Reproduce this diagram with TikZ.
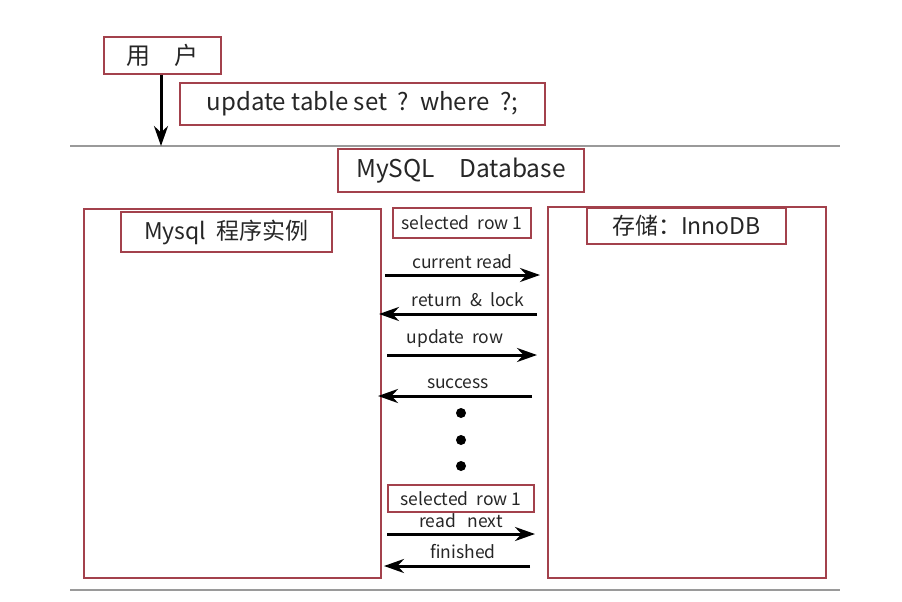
\documentclass[tikz,border=0pt]{standalone}
\usepackage{fontspec}
\setmainfont{Noto Sans CJK SC}
\usetikzlibrary{arrows.meta}
\definecolor{boxred}{HTML}{A3414C}
\definecolor{rulegray}{HTML}{9A9A9A}
\definecolor{txt}{HTML}{262626}
\begin{document}
\begin{tikzpicture}[x=1pt,y=-1pt,
  rbox/.style={draw=boxred, line width=2pt, inner sep=0pt, anchor=north west, text=txt},
  bigbox/.style={draw=boxred, line width=2pt, inner sep=0pt, anchor=north west},
  msg/.style={line width=3pt, -{Stealth[length=20pt,width=14pt]}},
  lab/.style={font=\fontsize{17.5}{20}\selectfont, inner sep=0pt, text=txt},
  dot/.style={circle, fill=black, inner sep=0pt, minimum size=10pt}]
\useasboundingbox (0,0) rectangle (902,602);
% rules
\coordinate (r1a) at (70,146); \coordinate (r1b) at (840,146);
\coordinate (r2a) at (70,590); \coordinate (r2b) at (840,590);
\draw[rulegray, line width=1.5pt] (r1a) -- (r1b);
\draw[rulegray, line width=1.5pt] (r2a) -- (r2b);
% top boxes
\node[rbox, minimum width=117pt, minimum height=37pt, font=\fontsize{24}{28}\selectfont] (user) at (103,36) {用\quad 户};
\node[rbox, minimum width=365pt, minimum height=42pt, font=\fontsize{24}{28}\selectfont] (sql) at (179,82) {update table set\ \ ?\ \ where\ \ ?;};
\coordinate (userdown) at (161,146);
\draw[line width=3pt, -{Stealth[length=20pt,width=14pt]}] (user.south -| userdown) -- (userdown);
\node[rbox, minimum width=246pt, minimum height=43pt, font=\fontsize{24.5}{28}\selectfont] (db) at (337,148) {MySQL\quad Database};
% columns
\node[bigbox, minimum width=297pt, minimum height=369pt] (left) at (83,208) {};
\node[bigbox, minimum width=278pt, minimum height=371pt] (right) at (547,206) {};
\node[rbox, minimum width=211pt, minimum height=40pt, font=\fontsize{23}{27}\selectfont] (inst) at (120,211) {Mysql\ \ 程序实例};
\node[rbox, minimum width=199pt, minimum height=36pt, font=\fontsize{23}{27}\selectfont] (store) at (586,207) {存储：InnoDB};
\node[rbox, minimum width=138pt, minimum height=30pt, font=\fontsize{17.5}{20}\selectfont] (sel1) at (392,207) {selected\ \ row 1};
\node[rbox, minimum width=146pt, minimum height=27pt, font=\fontsize{17.5}{20}\selectfont] (sel2) at (387,484) {selected\ \ row 1};
% messages
\coordinate (a1s) at (385,275); \coordinate (a1e) at (540,275);
\coordinate (a2s) at (537,314); \coordinate (a2e) at (379,314);
\coordinate (a3s) at (387,355); \coordinate (a3e) at (537,355);
\coordinate (a4s) at (532,396); \coordinate (a4e) at (378,396);
\coordinate (a5s) at (387,534); \coordinate (a5e) at (535,534);
\coordinate (a6s) at (530,566); \coordinate (a6e) at (384,566);
\draw[msg] (a1s) -- node[lab, above=5pt] {current read} (a1e);
\draw[msg] (a2s) -- node[lab, above=6pt, xshift=10pt] {return\ \ \&\ \ lock} (a2e);
\draw[msg] (a3s) -- node[lab, above=6pt, xshift=-7pt] {update\ \ row} (a3e);
\draw[msg] (a4s) -- node[lab, above=6pt, xshift=3pt] {success} (a4e);
\draw[msg] (a5s) -- node[lab, above=5pt] {read\ \ \ next} (a5e);
\draw[msg] (a6s) -- node[lab, above=6pt, xshift=6pt] {finished} (a6e);
% dots
\node[dot] (d1) at (461,413) {};
\node[dot] (d2) at (461,440) {};
\node[dot] (d3) at (461,466) {};
\end{tikzpicture}
\end{document}
